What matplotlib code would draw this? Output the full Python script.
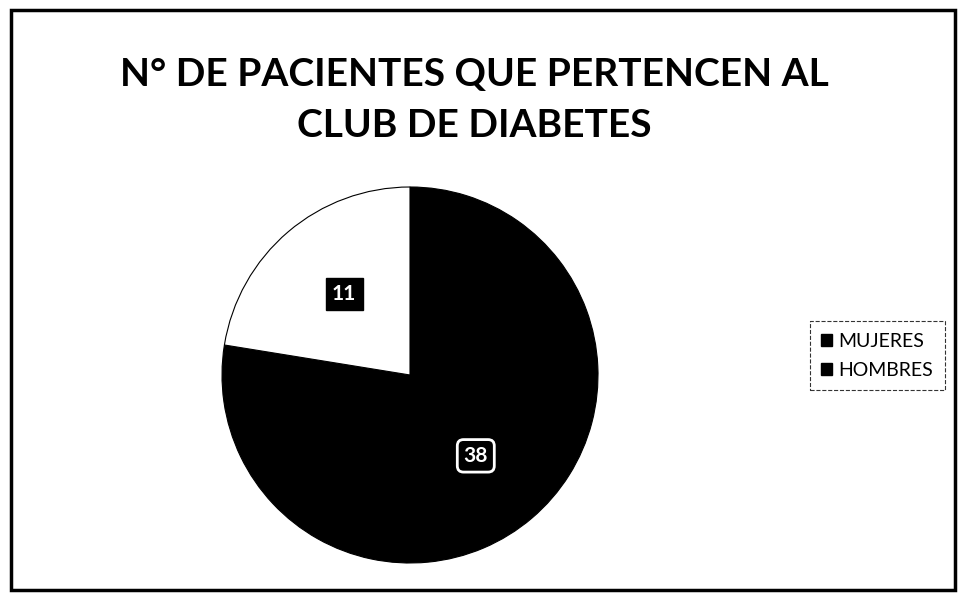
import matplotlib.pyplot as plt
from matplotlib.patches import Rectangle

labels = ['MUJERES', 'HOMBRES']
values = [38, 11]
colors = ['black', 'white']

fig = plt.figure(figsize=(9.62, 5.98), dpi=100)
fig.patches.append(Rectangle((0.011, 0.013), 0.982, 0.97, transform=fig.transFigure,
                             fill=False, edgecolor='black', linewidth=2.5))

fig.text(0.493, 0.833, "N° DE PACIENTES QUE PERTENCEN AL\nCLUB DE DIABETES",
         ha='center', va='center', fontsize=28, fontweight='bold', family='Lato',
         linespacing=1.55)

r = 188
cx, cy = 410, 375
ax = fig.add_axes([(cx - r) / 962, 1 - (cy + r) / 598, 2 * r / 962, 2 * r / 598])
wedges, _ = ax.pie(values, colors=colors, startangle=90, counterclock=False,
                   wedgeprops=dict(edgecolor='black', linewidth=0.8))
ax.set_aspect('auto')
ax.set_xlim(-1, 1)
ax.set_ylim(-1, 1)

# data labels
ax.text(0.35, -0.43, str(values[0]), ha='center', va='center', color='white',
        fontsize=15, fontweight='bold', family='Lato',
        bbox=dict(boxstyle='round,pad=0.3', fc='black', ec='white', lw=2))
ax.text(-0.35, 0.43, str(values[1]), ha='center', va='center', color='white',
        fontsize=15, fontweight='bold', family='Lato',
        bbox=dict(boxstyle='square,pad=0.3', fc='black', ec='black'))

handles = [Rectangle((0, 0), 1, 1, fc='black', ec='black') for _ in labels]
leg = fig.legend(handles, labels, loc='center', bbox_to_anchor=(0.912, 0.405),
                 frameon=True, prop={'family': 'Lato', 'size': 14},
                 handlelength=0.55, handleheight=0.55, handletextpad=0.35,
                 labelspacing=0.6, borderpad=0.6, fancybox=False)
leg.get_frame().set_edgecolor('black')
leg.get_frame().set_linestyle('--')
leg.get_frame().set_linewidth(0.8)

fig.savefig('out.png', dpi=100)
